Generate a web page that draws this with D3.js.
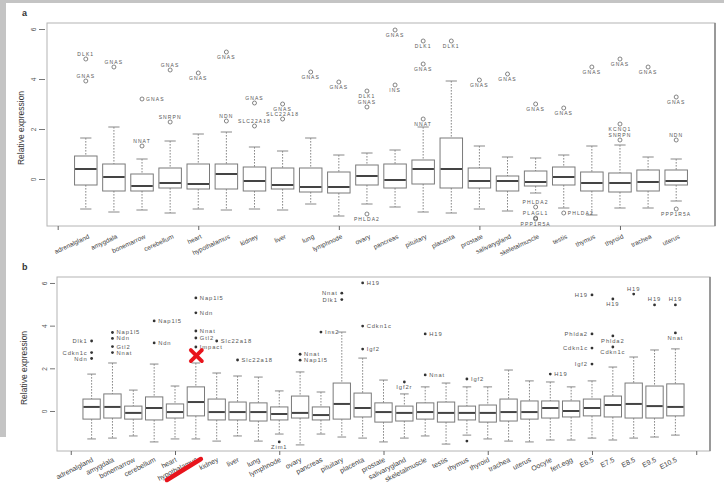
<!DOCTYPE html>
<html>
<head>
<meta charset="utf-8">
<script src="https://cdn.jsdelivr.net/npm/d3@7"></script>
<style>
  body { margin: 0; background: #fff; }
  svg { display: block; font-family: "Liberation Sans", Arial, sans-serif; }
</style>
</head>
<body>
<script>
const tissues = ["adrenalgland", "amygdala", "bonemarrow", "cerebellum", "heart", "hypothalamus",
  "kidney", "liver", "lung", "lymphnode", "ovary", "pancreas", "pituitary", "placenta", "prostate",
  "salivarygland", "skeletalmuscle", "testis", "thymus", "thyroid", "trachea", "uterus"];
const embryo = ["Oocyte", "fert.egg", "E6.5", "E7.5", "E8.5", "E9.5", "E10.5"];
const catsA = tissues;
const catsB = tissues.concat(embryo);
const yTicks = [0, 2, 4, 6];

// panel a (human): whisker low, q1, median, q3, whisker high
const loA  = [-1.2, -1.32, -1.24, -1.36, -1.2, -1.24, -1.2, -1.24, -1.0, -1.48, -1.0, -1.12, -1.32, -1.36, -1.2, -1.28, -0.56, -1.16, -1.44, -1.16, -1.16, -0.88];
const q1A  = [-0.24, -0.48, -0.48, -0.36, -0.4, -0.4, -0.48, -0.4, -0.52, -0.56, -0.24, -0.36, -0.2, -0.36, -0.36, -0.48, -0.28, -0.24, -0.48, -0.52, -0.48, -0.24];
const medA = [0.4, 0.08, -0.28, -0.16, -0.2, 0.2, -0.08, -0.24, -0.32, -0.32, 0.12, -0.04, 0.4, 0.4, -0.08, -0.08, -0.12, 0.08, -0.16, -0.16, -0.12, -0.08];
const q3A  = [0.92, 0.6, 0.2, 0.44, 0.6, 0.6, 0.48, 0.44, 0.44, 0.28, 0.56, 0.6, 0.76, 1.64, 0.44, 0.12, 0.32, 0.48, 0.28, 0.24, 0.36, 0.36];
const hiA  = [1.64, 2.08, 0.8, 1.52, 1.8, 1.88, 1.28, 1.12, 1.64, 0.96, 1.04, 1.16, 2.08, 3.92, 1.32, 0.88, 0.84, 0.96, 1.32, 1.36, 0.88, 0.8];

const outA = [
  ["adrenalgland", 4.8, "DLK1"], ["adrenalgland", 3.92, "GNAS"],
  ["amygdala", 4.48, "GNAS"],
  ["bonemarrow", 3.2, "GNAS"], ["bonemarrow", 1.32, "NNAT"],
  ["cerebellum", 4.36, "GNAS"], ["cerebellum", 2.28, "SNRPN"],
  ["heart", 4.24, "GNAS"],
  ["hypothalamus", 5.08, "GNAS"], ["hypothalamus", 2.32, "NDN"],
  ["kidney", 3.04, "GNAS"], ["kidney", 2.12, "SLC22A18"],
  ["liver", 3.0, "GNAS"], ["liver", 2.4, "SLC22A18"],
  ["lung", 4.28, "GNAS"],
  ["lymphnode", 3.88, "GNAS"],
  ["ovary", 3.52, "DLK1"], ["ovary", 2.88, "GNAS"], ["ovary", -1.4, "PHLDA2"],
  ["pancreas", 5.96, "GNAS"], ["pancreas", 3.76, "INS"],
  ["pituitary", 5.52, "DLK1"], ["pituitary", 4.6, "GNAS"], ["pituitary", 2.4, "NNAT"],
  ["placenta", 5.52, "DLK1"],
  ["prostate", 3.96, "GNAS"],
  ["salivarygland", 4.2, "GNAS"],
  ["skeletalmuscle", 3.0, "GNAS"], ["skeletalmuscle", -1.12, "PHLDA2"],
  ["skeletalmuscle", -1.56, "PLAGL1"], ["skeletalmuscle", -1.6, "PPP1R5A"],
  ["testis", 2.84, "GNAS"], ["testis", -1.36, "PHLDA2"],
  ["thymus", 4.48, "GNAS"],
  ["thyroid", 4.8, "GNAS"], ["thyroid", 2.2, "KCNQ1"], ["thyroid", 1.56, "SNRPN"],
  ["trachea", 4.48, "GNAS"],
  ["uterus", 3.28, "GNAS"], ["uterus", 1.56, "NDN"], ["uterus", -1.2, "PPP1R5A"]
];
// label side for each outlier of panel a (a above, b below, r right, l left)
const sideA = ["a", "a", "a", "r", "a", "a", "a", "b", "b", "a", "a", "a", "b", "a", "b", "b",
  "b", "a", "b", "b", "b", "b", "b", "b", "b", "b", "b", "b", "a", "a", "b", "b", "r", "b", "b",
  "b", "a", "b", "b", "a", "b"];

// panel b (mouse)
const loB  = [-1.31, -1.27, -1.17, -1.45, -1.31, -1.31, -1.41, -1.17, -1.41, -1.08, -1.59, -1.08, -1.22, -1.27, -1.45, -1.27, -1.17, -1.55, -1.13, -1.31, -1.41, -1.45, -1.36, -1.36, -1.27, -1.36, -1.27, -1.22, -1.13];
const q1B  = [-0.38, -0.33, -0.38, -0.42, -0.33, -0.23, -0.42, -0.42, -0.47, -0.42, -0.33, -0.42, -0.38, -0.28, -0.52, -0.47, -0.38, -0.52, -0.42, -0.52, -0.47, -0.38, -0.33, -0.28, -0.23, -0.28, -0.33, -0.33, -0.23];
const medB = [0.19, 0.19, -0.09, 0.14, -0.05, 0.42, -0.05, -0.05, -0.05, -0.14, -0.09, -0.19, 0.33, 0.14, -0.05, -0.09, -0.05, -0.09, -0.09, -0.09, -0.05, -0.05, 0.14, 0.0, 0.14, 0.28, 0.33, 0.23, 0.19];
const q3B  = [0.56, 0.8, 0.23, 0.66, 0.33, 1.13, 0.56, 0.42, 0.38, 0.19, 0.7, 0.19, 1.31, 0.84, 0.38, 0.23, 0.38, 0.42, 0.23, 0.28, 0.56, 0.47, 0.47, 0.47, 0.56, 0.7, 1.31, 1.17, 1.27];
const hiB  = [1.73, 2.25, 0.98, 2.2, 1.17, 2.25, 1.78, 1.64, 1.59, 0.94, 1.83, 0.89, 3.7, 2.48, 1.45, 0.8, 1.13, 1.31, 1.13, 1.13, 1.92, 1.41, 1.36, 1.13, 1.41, 2.06, 2.53, 2.86, 2.91];

const outB = [
  ["adrenalgland", 3.28, "Dlk1"], ["adrenalgland", 2.74, "Cdkn1c"], ["adrenalgland", 2.46, "Ndn"],
  ["amygdala", 3.68, "Nap1l5"], ["amygdala", 3.4, "Ndn"], ["amygdala", 3.02, "Gtl2"], ["amygdala", 2.74, "Nnat"],
  ["cerebellum", 4.22, "Nap1l5"], ["cerebellum", 3.19, "Ndn"],
  ["hypothalamus", 5.3, "Nap1l5"], ["hypothalamus", 4.6, "Ndn"], ["hypothalamus", 3.75, "Nnat"],
  ["hypothalamus", 3.42, "Gtl2"], ["hypothalamus", 3.0, "Impact"],
  ["kidney", 3.28, "Slc22a18"],
  ["liver", 2.39, "Slc22a18"],
  ["lymphnode", -1.45, "Zim1"],
  ["ovary", 2.66, "Nnat"], ["ovary", 2.38, "Nap1l5"],
  ["pancreas", 3.7, "Ins2"],
  ["pituitary", 5.52, "Nnat"], ["pituitary", 5.22, "Dlk1"],
  ["placenta", 6.0, "H19"], ["placenta", 3.98, "Cdkn1c"], ["placenta", 2.9, "Igf2"],
  ["salivarygland", 1.36, "Igf2r"],
  ["skeletalmuscle", 3.61, "H19"], ["skeletalmuscle", 1.69, "Nnat"],
  ["thymus", 1.5, "Igf2"], ["thymus", -1.41, ""],
  ["Oocyte", 1.73, "H19"],
  ["E6.5", 5.44, "H19"], ["E6.5", 3.61, "Phlda2"], ["E6.5", 2.95, "Cdkn1c"], ["E6.5", 2.2, "Igf2"],
  ["E7.5", 5.25, "H19"], ["E7.5", 3.52, "Phlda2"], ["E7.5", 3.0, "Cdkn1c"],
  ["E8.5", 5.48, "H19"],
  ["E9.5", 4.97, "H19"],
  ["E10.5", 4.97, "H19"], ["E10.5", 3.66, "Nnat"]
];
const sideB = ["l", "l", "l", "r", "r", "r", "r", "r", "r", "r", "r", "r", "r", "r", "r", "r", "b",
  "r", "r", "r", "l", "l", "r", "r", "r", "b", "r", "r", "r", "r", "r", "l", "l", "l", "l",
  "b", "b", "b", "a", "a", "a", "b"];

const W = 724, H = 484;
const svg = d3.select('body').append('svg')
    .attr('width', W)
    .attr('height', H);

// gray scan edges
svg.append('rect').attr('x', 0).attr('y', 0).attr('width', 6).attr('height', 437).attr('fill', '#c4c4c4');
svg.append('rect').attr('x', 0).attr('y', 0).attr('width', W).attr('height', 3).attr('fill', '#c4c4c4');

function panel(o) {
  const n = o.cats.length;
  const x = d3.scaleLinear()
      .domain([0.5 - 0.04 * n, n + 0.5 + 0.04 * n])
      .range([o.left, o.right]);
  const y = d3.scaleLinear()
      .domain(o.ydom)
      .range([o.bottom, o.top]);
  const step = x(1) - x(0);
  const bw = step * o.boxFrac;
  const g = svg.append('g');

  // frame
  g.append('rect')
      .attr('x', o.left).attr('y', o.top)
      .attr('width', o.right - o.left).attr('height', o.bottom - o.top)
      .attr('fill', '#fff').attr('stroke', '#b4b4b4').attr('stroke-width', 1);
  g.append('line')
      .attr('x1', o.right).attr('x2', o.right).attr('y1', o.top).attr('y2', o.bottom)
      .attr('stroke', '#8a8a8a').attr('stroke-width', 1.6);

  // x axis ticks (no labels)
  const xt = d3.range(0, n + 2, 5).filter(v => x(v) <= o.right);
  const xa = g.append('g')
      .attr('transform', `translate(0, ${o.bottom})`)
      .call(d3.axisBottom(x).tickValues(xt).tickFormat('').tickSize(4));
  xa.select('.domain').remove();
  xa.selectAll('line').attr('stroke', '#666');

  // y axis
  const ya = g.append('g')
      .attr('transform', `translate(${o.left - o.tickGap}, 0)`)
      .call(d3.axisLeft(y).tickValues(yTicks).tickSize(o.tickLen));
  ya.select('.domain').remove();
  ya.selectAll('line').attr('stroke', '#777');
  ya.selectAll('text')
      .attr('transform', 'rotate(-90)')
      .attr('x', 0).attr('dy', 0)
      .attr('y', -o.tickLen - 3)
      .attr('text-anchor', 'middle')
      .attr('fill', '#555')
      .attr('font-size', 6.5);

  // category labels
  g.selectAll('.xl')
    .data(o.cats)
    .enter()
    .append('text')
      .attr('transform', (d, i) => `translate(${x(i + 1) + o.labDx}, ${o.bottom + o.labDy}) rotate(${o.labRot})`)
      .attr('text-anchor', 'end')
      .attr('dy', '0.35em')
      .attr('font-size', o.labSize)
      .attr('fill', '#444')
      .text(d => d);

  // boxes
  const boxes = g.selectAll('.bx')
    .data(o.cats)
    .enter()
    .append('g');
  const dash = '1.6,1.4';
  boxes.append('line')
      .attr('x1', (d, i) => x(i + 1)).attr('x2', (d, i) => x(i + 1))
      .attr('y1', (d, i) => y(o.hi[i])).attr('y2', (d, i) => y(o.q3[i]))
      .attr('stroke', '#888').attr('stroke-dasharray', dash);
  boxes.append('line')
      .attr('x1', (d, i) => x(i + 1)).attr('x2', (d, i) => x(i + 1))
      .attr('y1', (d, i) => y(o.q1[i])).attr('y2', (d, i) => y(o.lo[i]))
      .attr('stroke', '#888').attr('stroke-dasharray', dash);
  [o.hi, o.lo].forEach(arr => {
    boxes.append('line')
        .attr('x1', (d, i) => x(i + 1) - bw / 4).attr('x2', (d, i) => x(i + 1) + bw / 4)
        .attr('y1', (d, i) => y(arr[i])).attr('y2', (d, i) => y(arr[i]))
        .attr('stroke', '#888');
  });
  boxes.append('rect')
      .attr('x', (d, i) => x(i + 1) - bw / 2)
      .attr('width', bw)
      .attr('y', (d, i) => y(o.q3[i]))
      .attr('height', (d, i) => y(o.q1[i]) - y(o.q3[i]))
      .attr('fill', '#fff').attr('stroke', '#7a7a7a');
  boxes.append('line')
      .attr('x1', (d, i) => x(i + 1) - bw / 2 + 0.5).attr('x2', (d, i) => x(i + 1) + bw / 2 - 0.5)
      .attr('y1', (d, i) => y(o.med[i])).attr('y2', (d, i) => y(o.med[i]))
      .attr('stroke', '#444').attr('stroke-width', 2);

  // outliers
  const px = d => x(o.cats.indexOf(d[0]) + 1);
  const pts = g.selectAll('.ol')
    .data(o.out)
    .enter()
    .append('g');
  if (o.open) {
    pts.append('circle')
        .attr('cx', px).attr('cy', d => y(d[1])).attr('r', 2)
        .attr('fill', 'none').attr('stroke', '#666').attr('stroke-width', 0.8);
  } else {
    pts.append('circle')
        .attr('cx', px).attr('cy', d => y(d[1])).attr('r', 1.4)
        .attr('fill', '#333');
  }
  pts.append('text')
      .attr('x', (d, i) => px(d) + ({l: -4, r: 4, a: 0, b: 0})[o.side[i]])
      .attr('y', (d, i) => y(d[1]) + ({l: 2, r: 2, a: -3.5, b: 7})[o.side[i]])
      .attr('text-anchor', (d, i) => ({l: 'end', r: 'start', a: 'middle', b: 'middle'})[o.side[i]])
      .attr('font-size', o.outSize)
      .attr('letter-spacing', o.outSpace)
      .attr('fill', '#555')
      .text(d => d[2]);

  // panel letter and y title
  svg.append('text')
      .attr('x', 22).attr('y', o.top - 7)
      .attr('font-size', 9).attr('font-weight', 'bold').attr('fill', '#333')
      .text(o.letter);
  svg.append('text')
      .attr('transform', `translate(${o.titleX}, ${o.titleY}) rotate(-90)`)
      .attr('text-anchor', 'middle')
      .attr('font-size', 8.5).attr('fill', '#333')
      .text('Relative expression');

  return {x, y};
}

panel({
  cats: catsA, lo: loA, q1: q1A, med: medA, q3: q3A, hi: hiA, out: outA, side: sideA,
  left: 47, right: 715, top: 23, bottom: 226, ydom: [-1.88, 6.24],
  boxFrac: 0.8, tickGap: 2, tickLen: 6, labDx: 3, labDy: 10, labRot: -25, labSize: 6.5,
  open: true, outSize: 5, outSpace: 1.1, letter: 'a', titleX: 24, titleY: 128
});

const pb = panel({
  cats: catsB, lo: loB, q1: q1B, med: medB, q3: q3B, hi: hiB, out: outB, side: sideB,
  left: 57, right: 710, top: 277, bottom: 451, ydom: [-1.875, 6.28],
  boxFrac: 0.83, tickGap: 2, tickLen: 5, labDx: 1, labDy: 8, labRot: -27, labSize: 7,
  open: false, outSize: 5.8, outSpace: 0.9, letter: 'b', titleX: 27, titleY: 368
});

// red hand annotations
const hx = pb.x(catsB.indexOf('hypothalamus') + 1);
const hy = pb.y(2.62);
const red = svg.append('g')
    .attr('stroke', '#e8141c').attr('stroke-linecap', 'round');
red.append('line').attr('x1', hx - 5).attr('y1', hy - 5).attr('x2', hx + 6).attr('y2', hy + 6).attr('stroke-width', 3.8);
red.append('line').attr('x1', hx + 6).attr('y1', hy - 5).attr('x2', hx - 5).attr('y2', hy + 6).attr('stroke-width', 3.8);
red.append('line')
    .attr('x1', hx - 29).attr('y1', 451 + 29)
    .attr('x2', hx + 5).attr('y2', 451 + 8)
    .attr('stroke-width', 4.5);
</script>
</body>
</html>
